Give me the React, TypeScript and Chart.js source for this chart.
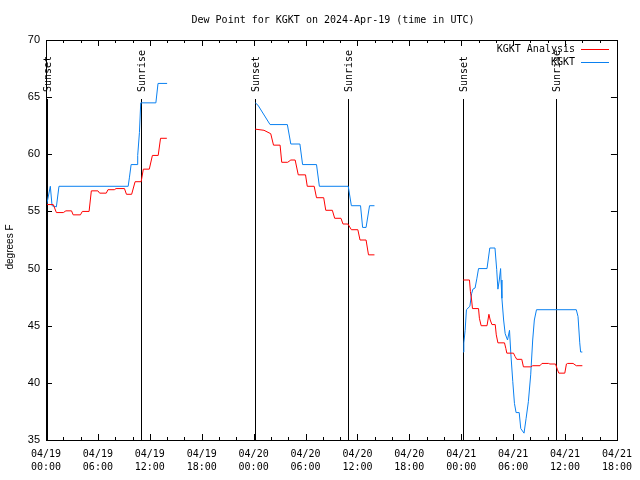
import React, { useEffect, useRef } from "react";
import { Chart, registerables } from "chart.js";

Chart.register(...registerables);

const TITLE = "Dew Point for KGKT on 2024-Apr-19 (time in UTC)";
const Y_LABEL = "degrees F";

const xTickDates = ["04/19", "04/19", "04/19", "04/19", "04/20", "04/20", "04/20", "04/20", "04/21", "04/21", "04/21", "04/21"];
const xTickTimes = ["00:00", "06:00", "12:00", "18:00", "00:00", "06:00", "12:00", "18:00", "00:00", "06:00", "12:00", "18:00"];

// hours since 04/19 00:00 UTC
const sunsetHours = [0.1, 24.15, 48.15];
const sunriseHours = [10.95, 34.93, 58.93];

// KGKT Analysis (hours, °F); null = gap
const analysisHours = [
  0.08, 0.84, 1.2, 2.0, 2.3, 2.95, 3.14, 3.98, 4.2, 4.98, 5.24, 6.0, 6.2, 6.97, 7.16, 7.9, 8.1, 9.07, 9.3, 9.9, 10.3, 11.0, 11.25, 11.94, 12.3, 12.97, 13.24, 13.97, 14.5,
  24.19, 25.2, 25.98, 26.3, 27.06, 27.25, 27.94, 28.3, 28.8, 29.16, 30.0, 30.2, 31.0, 31.27, 32.1, 32.34, 33.1, 33.37, 34.1, 34.33, 34.9, 35.3, 36.05, 36.3, 37.0, 37.28, 37.97, 38.5,
  48.22, 48.95, 49.06, 49.2, 49.3, 50.0, 50.1, 50.3, 50.98, 51.2, 51.35, 51.55, 51.93, 52.05, 52.24, 53.0, 53.16, 53.27, 54.04, 54.23, 54.42, 55.0, 55.19, 56.03, 56.26, 57.1, 57.33, 58.1, 58.25, 58.9, 59.1, 59.28, 59.97, 60.16, 60.3, 60.93, 61.3, 62.0,
];
const analysisValues: (number | null)[] = [
  55.6, 55.6, 54.9, 54.9, 55.05, 55.05, 54.7, 54.7, 55.0, 55.0, 56.8, 56.8, 56.6, 56.6, 56.9, 56.9, 57.0, 57.0, 56.5, 56.5, 57.6, 57.6, 58.7, 58.7, 59.9, 59.9, 61.4, 61.4, null,
  62.2, 62.1, 61.8, 60.8, 60.8, 59.3, 59.3, 59.5, 59.5, 58.2, 58.2, 57.2, 57.2, 56.2, 56.2, 55.1, 55.1, 54.4, 54.4, 53.9, 53.9, 53.4, 53.4, 52.5, 52.5, 51.2, 51.2, null,
  49.0, 49.0, 48.0, 47.25, 46.5, 46.5, 45.65, 45.0, 45.0, 46.0, 45.5, 45.1, 45.1, 44.2, 43.5, 43.5, 43.0, 42.6, 42.6, 42.3, 42.06, 42.06, 41.4, 41.4, 41.5, 41.5, 41.7, 41.7, 41.65, 41.65, 41.2, 40.85, 40.85, 41.65, 41.7, 41.7, 41.5, 41.5,
];

// KGKT observations (hours, °F); null = gap
const obsHours = [
  0.08, 0.5, 0.7, 1.2, 1.5, 9.5, 9.65, 9.84, 10.52, 10.6, 10.8, 10.95, 12.7, 12.95, 14.0, 14.5,
  24.19, 24.5, 25.9, 27.9, 28.3, 29.35, 29.66, 31.27, 31.6, 34.94, 35.3, 36.36, 36.6, 37.0, 37.4, 37.97, 38.5,
  48.22, 48.3, 48.45, 48.6, 49.0, 49.2, 49.35, 49.6, 49.8, 50.0, 50.98, 51.3, 51.9, 52.1, 52.24, 52.4, 52.55, 52.6, 52.7, 52.9, 53.08, 53.35, 53.58, 53.73, 53.96, 54.15, 54.34, 54.7, 54.88, 55.26, 55.5, 55.76, 56.03, 56.26, 56.45, 56.7, 61.3, 61.5, 61.7, 61.8, 62.0,
];
const obsValues: (number | null)[] = [
  55.6, 57.2, 55.5, 55.4, 57.2, 57.2, 58.0, 59.1, 59.1, 59.9, 61.9, 64.5, 64.5, 66.2, 66.2, null,
  64.5, 64.3, 62.6, 62.6, 60.9, 60.9, 59.1, 59.1, 57.2, 57.2, 55.5, 55.5, 53.6, 53.6, 55.5, 55.5, null,
  42.7, 43.5, 44.6, 46.4, 46.7, 47.8, 48.2, 48.3, 49.1, 50.0, 50.0, 51.8, 51.8, 49.9, 48.2, 49.0, 50.0, 49.0, 47.4, 45.5, 44.3, 43.75, 44.6, 42.6, 40.1, 38.2, 37.4, 37.4, 36.0, 35.6, 36.9, 38.35, 40.7, 43.75, 45.5, 46.4, 46.4, 45.8, 43.5, 42.7, 42.7,
];

const RED = "#ff0000";
const BLUE = "#0a80f0";
const MONO = "'DejaVu Sans Mono', monospace";
const SANS = "'Liberation Sans', Arial, sans-serif";

function toPoints(xs: number[], ys: (number | null)[]) {
  return xs.map((x, i) => ({ x, y: ys[i] }));
}

const framePlugin = {
  id: "gnuframe",
  beforeDatasetsDraw(chart: any) {
    const { ctx, chartArea, scales } = chart;
    const xs = scales.x;
    ctx.save();
    ctx.strokeStyle = "#000";
    ctx.lineWidth = 1;
    ctx.fillStyle = "#000";
    ctx.font = `10px ${MONO}`;
    const marks: [number, string][] = [
      ...sunsetHours.map((h) => [h, "Sunset"] as [number, string]),
      ...sunriseHours.map((h) => [h, "Sunrise"] as [number, string]),
    ];
    for (const [h, label] of marks) {
      const px = Math.round(xs.getPixelForValue(h)) + 0.5;
      ctx.beginPath();
      ctx.moveTo(px, 99);
      ctx.lineTo(px, chartArea.bottom);
      ctx.stroke();
      ctx.save();
      ctx.translate(px + 1, 92);
      ctx.rotate(-Math.PI / 2);
      ctx.textAlign = "left";
      ctx.textBaseline = "middle";
      ctx.fillText(label, 0, 0);
      ctx.restore();
    }
    ctx.restore();
  },
  afterDraw(chart: any) {
    const { ctx, chartArea, scales } = chart;
    const xs = scales.x;
    const ys = scales.y;
    const L = chartArea.left, R = chartArea.right, T = chartArea.top, B = chartArea.bottom;
    ctx.save();
    ctx.strokeStyle = "#000";
    ctx.lineWidth = 1;
    ctx.strokeRect(Math.round(L) + 0.5, Math.round(T) + 0.5, Math.round(R - L), Math.round(B - T));
    ctx.beginPath();
    for (let h = 0; h <= 66; h += 2) {
      const px = Math.round(xs.getPixelForValue(h)) + 0.5;
      const len = h % 6 === 0 ? 6 : 3;
      ctx.moveTo(px, B);
      ctx.lineTo(px, B - len);
      ctx.moveTo(px, T);
      ctx.lineTo(px, T + len);
    }
    for (let v = 35; v <= 70; v += 5) {
      const py = Math.round(ys.getPixelForValue(v)) + 0.5;
      ctx.moveTo(L, py);
      ctx.lineTo(L + 6, py);
      ctx.moveTo(R, py);
      ctx.lineTo(R - 6, py);
    }
    ctx.stroke();

    // title
    ctx.fillStyle = "#000";
    ctx.font = `10px ${MONO}`;
    ctx.textAlign = "center";
    ctx.textBaseline = "middle";
    ctx.fillText(TITLE, 333, 20);

    // y axis label
    ctx.save();
    ctx.translate(10, 247);
    ctx.rotate(-Math.PI / 2);
    ctx.font = `10px ${SANS}`;
    ctx.textAlign = "center";
    ctx.textBaseline = "middle";
    ctx.fillText(Y_LABEL, 0, 0);
    ctx.restore();

    // legend
    const entries: [string, string, number][] = [
      ["KGKT Analysis", RED, 49.5],
      ["KGKT", BLUE, 62.5],
    ];
    ctx.font = `10px ${MONO}`;
    ctx.textAlign = "right";
    ctx.textBaseline = "middle";
    for (const [label, color, y] of entries) {
      ctx.fillStyle = "#000";
      ctx.fillText(label, 575, y);
      ctx.strokeStyle = color;
      ctx.beginPath();
      ctx.moveTo(581, y);
      ctx.lineTo(609, y);
      ctx.stroke();
    }
    ctx.restore();
  },
};

export default function App() {
  const ref = useRef<HTMLCanvasElement | null>(null);
  useEffect(() => {
    document.body.style.margin = "0";
    const canvas = ref.current;
    if (!canvas) return;
    const chart = new Chart(canvas, {
      type: "line",
      data: {
        datasets: [
          {
            label: "KGKT Analysis",
            data: toPoints(analysisHours, analysisValues),
            borderColor: RED,
            borderWidth: 1,
            pointRadius: 0,
            spanGaps: false,
            tension: 0,
          },
          {
            label: "KGKT",
            data: toPoints(obsHours, obsValues),
            borderColor: BLUE,
            borderWidth: 1,
            pointRadius: 0,
            spanGaps: false,
            tension: 0,
          },
        ],
      },
      options: {
        animation: false,
        responsive: false,
        devicePixelRatio: 1,
        layout: { padding: { top: 40, right: 19, left: 0, bottom: 0 } },
        plugins: { legend: { display: false }, title: { display: false }, tooltip: { enabled: false } },
        scales: {
          x: {
            type: "linear",
            min: 0,
            max: 66,
            grid: { display: false, drawTicks: false },
            border: { display: false },
            afterFit: (s: any) => {
              s.height = 40;
            },
            ticks: {
              stepSize: 6,
              autoSkip: false,
              maxRotation: 0,
              padding: 8,
              color: "#000",
              font: { family: MONO, size: 10, lineHeight: 1.3 },
              callback: (v: any) => {
                const i = Math.round(Number(v) / 6);
                return [xTickDates[i], xTickTimes[i]];
              },
            },
          },
          y: {
            min: 35,
            max: 70,
            grid: { display: false, drawTicks: false },
            border: { display: false },
            afterFit: (s: any) => {
              s.width = 46;
            },
            ticks: {
              stepSize: 5,
              padding: 6,
              color: "#000",
              font: { family: SANS, size: 11 },
            },
          },
        },
      },
      plugins: [framePlugin],
    } as any);
    return () => chart.destroy();
  }, []);
  return (
    <div style={{ width: 640, height: 480, background: "#fff" }}>
      <canvas ref={ref} width={640} height={480} style={{ display: "block" }} />
    </div>
  );
}
